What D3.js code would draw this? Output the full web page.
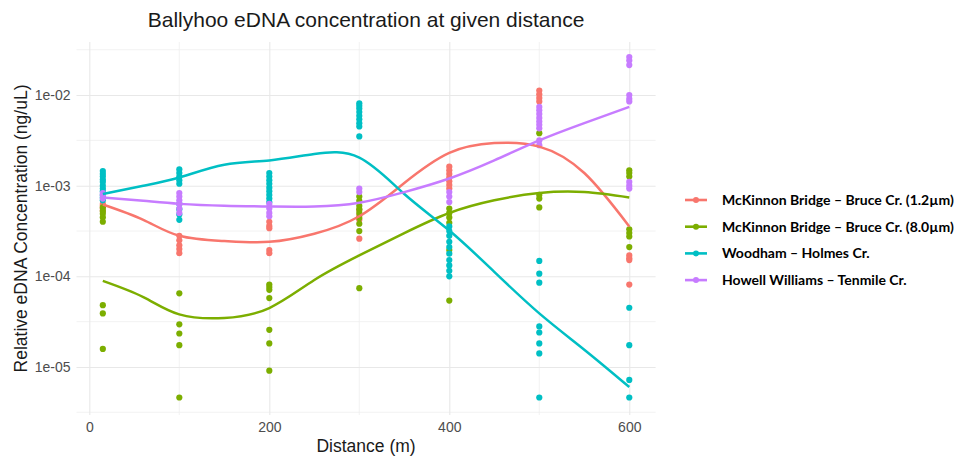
<!DOCTYPE html>
<html>
<head>
<meta charset="utf-8">
<script src="https://cdn.jsdelivr.net/npm/d3@7"></script>
<style>
  body { margin: 0; background: #fff; }
  svg { display: block; font-family: "Liberation Sans", Arial, sans-serif; }
</style>
</head>
<body>
<svg width="961" height="460"></svg>
<script>
// sampling distances (m)
const distances = [15, 100, 200, 300, 400, 500, 600];

// observed concentrations (ng/uL), one inner array per distance
const mckinnon12 = [
  [6.3e-4, 6.0e-4, 5.6e-4, 5.25e-4],
  [2.8e-4, 2.5e-4, 2.2e-4, 2.0e-4, 1.8e-4],
  [4.0e-4, 3.6e-4, 3.4e-4, 1.95e-4, 1.8e-4],
  [5.4e-4, 4.7e-4, 4.2e-4, 2.6e-4],
  [1.62e-3, 1.48e-3, 1.35e-3, 1.23e-3, 1.12e-3, 1.02e-3, 9.3e-4],
  [1.12e-2, 1.02e-2, 9.3e-3, 8.5e-3],
  [1.7e-4, 1.58e-4, 1.51e-4, 8.1e-5]
];
const mckinnon80 = [
  [5.75e-4, 5.25e-4, 4.9e-4, 4.47e-4, 4.0e-4, 4.8e-5, 3.9e-5, 1.58e-5],
  [6.5e-5, 2.95e-5, 2.34e-5, 1.74e-5, 4.6e-6],
  [8.1e-5, 7.6e-5, 7.1e-5, 5.75e-5, 2.57e-5, 1.82e-5, 9.1e-6],
  [7.6e-4, 6.8e-4, 6.0e-4, 5.5e-4, 5.0e-4, 4.4e-4, 3.8e-4, 3.16e-4, 7.4e-5],
  [5.6e-4, 5.0e-4, 4.47e-4, 3.9e-4, 1.95e-4, 5.4e-5],
  [3.8e-3, 7.9e-4, 7.2e-4, 5.75e-4],
  [1.48e-3, 1.38e-3, 1.26e-3, 3.3e-4, 3.0e-4, 2.75e-4, 2.1e-4]
];
const woodham = [
  [1.45e-3, 1.35e-3, 1.26e-3, 1.17e-3, 1.1e-3, 1.0e-3, 9.3e-4, 8.7e-4, 7.9e-4, 7.4e-4, 6.9e-4],
  [1.51e-3, 1.38e-3, 1.26e-3, 1.15e-3, 1.05e-3, 6.3e-4, 5.5e-4, 4.8e-4, 4.2e-4],
  [1.38e-3, 1.26e-3, 1.15e-3, 1.05e-3, 9.5e-4, 8.7e-4, 7.9e-4, 7.2e-4, 6.6e-4],
  [8.1e-3, 7.6e-3, 7.1e-3, 6.5e-3, 5.9e-3, 5.4e-3, 4.9e-3, 4.5e-3, 3.5e-3],
  [3.55e-4, 3.16e-4, 2.8e-4, 2.4e-4, 2.1e-4, 1.78e-4, 1.51e-4, 1.32e-4, 1.15e-4, 1.0e-4],
  [1.48e-4, 1.07e-4, 8.5e-5, 2.8e-5, 2.4e-5, 1.82e-5, 1.41e-5, 4.6e-6],
  [4.5e-5, 1.74e-5, 7.2e-6, 4.6e-6]
];
const howell = [
  [8.3e-4, 7.8e-4, 7.2e-4],
  [8.3e-4, 7.6e-4, 6.9e-4, 6.3e-4, 5.6e-4, 5.0e-4],
  [6.3e-4, 5.6e-4, 5.0e-4, 4.6e-4],
  [9.3e-4, 8.5e-4],
  [8.5e-4, 7.6e-4, 6.6e-4],
  [7.4e-3, 6.8e-3, 6.2e-3, 5.6e-3, 5.1e-3, 4.7e-3, 4.3e-3, 3.16e-3, 2.8e-3],
  [2.63e-2, 2.4e-2, 2.14e-2, 1.0e-2, 9.1e-3, 8.5e-3, 1.1e-3, 1.0e-3, 9.3e-4]
];

// loess trend
const smoothX = [15, 60, 100, 150, 200, 250, 300, 350, 400, 450, 500, 550, 600];
const smoothMckinnon12 = [6.2e-4, 4.2e-4, 2.8e-4, 2.45e-4, 2.4e-4, 2.95e-4, 4.6e-4, 1.07e-3, 2.3e-3, 2.95e-3, 2.7e-3, 1.38e-3, 3.55e-4];
const smoothMckinnon80 = [8.9e-5, 5.9e-5, 3.8e-5, 3.47e-5, 4.47e-5, 9.1e-5, 1.7e-4, 3.0e-4, 5.0e-4, 6.9e-4, 8.3e-4, 8.5e-4, 7.4e-4];
const smoothWoodham = [8.1e-4, 1.0e-3, 1.23e-3, 1.7e-3, 1.9e-3, 2.24e-3, 2.04e-3, 8.1e-4, 3.2e-4, 1.12e-4, 3.9e-5, 1.55e-5, 6.0e-6];
const smoothHowell = [7.4e-4, 6.8e-4, 6.3e-4, 6.0e-4, 5.9e-4, 5.9e-4, 6.5e-4, 8.5e-4, 1.2e-3, 1.9e-3, 3.16e-3, 4.9e-3, 7.4e-3];

const seriesNames = [
  "McKinnon Bridge – Bruce Cr. (1.2µm)",
  "McKinnon Bridge – Bruce Cr. (8.0µm)",
  "Woodham – Holmes Cr.",
  "Howell Williams – Tenmile Cr."
];
const seriesColors = ["#F8766D", "#7CAE00", "#00BFC4", "#C77CFF"];

const xTicks = [0, 200, 400, 600];
const xMinor = [100, 300, 500];
const yTicks = [1e-5, 1e-4, 1e-3, 1e-2];
const yTickLabels = ["1e-05", "1e-04", "1e-03", "1e-02"];
const yMinor = [3.162e-6, 3.162e-5, 3.162e-4, 3.162e-3, 3.162e-2];

const series = [
  { points: mckinnon12, smooth: smoothMckinnon12 },
  { points: mckinnon80, smooth: smoothMckinnon80 },
  { points: woodham, smooth: smoothWoodham },
  { points: howell, smooth: smoothHowell }
].map((s, i) => ({ ...s, name: seriesNames[i], color: seriesColors[i] }));

const svg = d3.select("svg");
const panel = { left: 76.5, right: 655.6, top: 42, bottom: 415 };

const x = d3.scaleLinear().domain([-14.25, 629.25]).range([panel.left, panel.right]);
const y = d3.scaleLog().domain([2.95e-6, 3.85e-2]).range([panel.bottom, panel.top]);

// grid
const grid = svg.append("g");
grid.selectAll("line.ym").data(yMinor).join("line")
  .attr("x1", panel.left).attr("x2", panel.right)
  .attr("y1", d => y(d)).attr("y2", d => y(d))
  .attr("stroke", "#efefef").attr("stroke-width", 0.8);
grid.selectAll("line.xm").data(xMinor).join("line")
  .attr("y1", panel.top).attr("y2", panel.bottom)
  .attr("x1", d => x(d)).attr("x2", d => x(d))
  .attr("stroke", "#efefef").attr("stroke-width", 0.8);

svg.append("g")
  .attr("transform", `translate(${panel.left},0)`)
  .call(d3.axisLeft(y).tickValues(yTicks).tickSize(-(panel.right - panel.left)).tickFormat(""))
  .call(g => g.select(".domain").remove())
  .call(g => g.selectAll("line").attr("stroke", "#e8e8e8").attr("stroke-width", 1.1));

svg.append("g")
  .attr("transform", `translate(0,${panel.bottom})`)
  .call(d3.axisBottom(x).tickValues(xTicks).tickSize(-(panel.bottom - panel.top)).tickFormat(""))
  .call(g => g.select(".domain").remove())
  .call(g => g.selectAll("line").attr("stroke", "#e8e8e8").attr("stroke-width", 1.1));

// tick labels
svg.append("g")
  .attr("transform", `translate(${panel.left - 6},0)`)
  .call(d3.axisLeft(y).tickValues(yTicks).tickSize(0).tickPadding(0).tickFormat((d, i) => yTickLabels[i]))
  .call(g => g.select(".domain").remove())
  .call(g => g.selectAll("text").attr("fill", "#4d4d4d").style("font-size", "14px").style("font-family", "'Liberation Sans', Arial, sans-serif"));

svg.append("g")
  .attr("transform", `translate(0,${panel.bottom + 2})`)
  .call(d3.axisBottom(x).tickValues(xTicks).tickSize(0).tickPadding(5))
  .call(g => g.select(".domain").remove())
  .call(g => g.selectAll("text").attr("fill", "#4d4d4d").style("font-size", "14px").style("font-family", "'Liberation Sans', Arial, sans-serif"));

// points
const pts = svg.append("g");
series.forEach(s => {
  const flat = [];
  s.points.forEach((vals, i) => vals.forEach(v => flat.push([distances[i], v])));
  pts.append("g").selectAll("circle").data(flat).join("circle")
    .attr("cx", d => x(d[0])).attr("cy", d => y(d[1]))
    .attr("r", 3.1).attr("fill", s.color);
});

// smooth lines
const line = d3.line().x(d => x(d[0])).y(d => y(d[1])).curve(d3.curveNatural);
series.forEach(s => {
  svg.append("path")
    .datum(smoothX.map((d, i) => [d, s.smooth[i]]))
    .attr("d", line)
    .attr("fill", "none").attr("stroke", s.color).attr("stroke-width", 2.5);
});

// titles
const cx = (panel.left + panel.right) / 2;
svg.append("text").attr("x", cx).attr("y", 27).attr("text-anchor", "middle")
  .style("font-size", "21px").attr("fill", "#1a1a1a")
  .text("Ballyhoo eDNA concentration at given distance");
svg.append("text").attr("x", cx).attr("y", 452).attr("text-anchor", "middle")
  .style("font-size", "17.5px").attr("fill", "#1a1a1a")
  .text("Distance (m)");
svg.append("text")
  .attr("transform", `translate(27,${(panel.top + panel.bottom) / 2}) rotate(-90)`)
  .attr("text-anchor", "middle")
  .style("font-size", "17.5px").attr("fill", "#1a1a1a")
  .text("Relative eDNA Concentration (ng/uL)");

// legend
const legend = svg.append("g").attr("transform", "translate(685,200)");
const rowGap = 26.7;
const items = legend.selectAll("g").data(series).join("g")
  .attr("transform", (d, i) => `translate(0,${i * rowGap})`);
items.append("line").attr("x1", 0).attr("x2", 22).attr("y1", 0).attr("y2", 0)
  .attr("stroke", d => d.color).attr("stroke-width", 2.6);
items.append("circle").attr("cx", 11).attr("cy", 0).attr("r", 3).attr("fill", d => d.color);
const labels = items.append("text").attr("x", 37).attr("y", 5)
  .style("font-family", "Lato, 'Open Sans', sans-serif")
  .style("font-weight", "bold").style("font-size", "15px").attr("fill", "#000")
  .text(d => d.name);
// shrink the font so the longest entry fits the space the reference gives it
const legendSize = 15 * 232 / labels.node().getComputedTextLength();
labels.style("font-size", legendSize + "px");
</script>
</body>
</html>
